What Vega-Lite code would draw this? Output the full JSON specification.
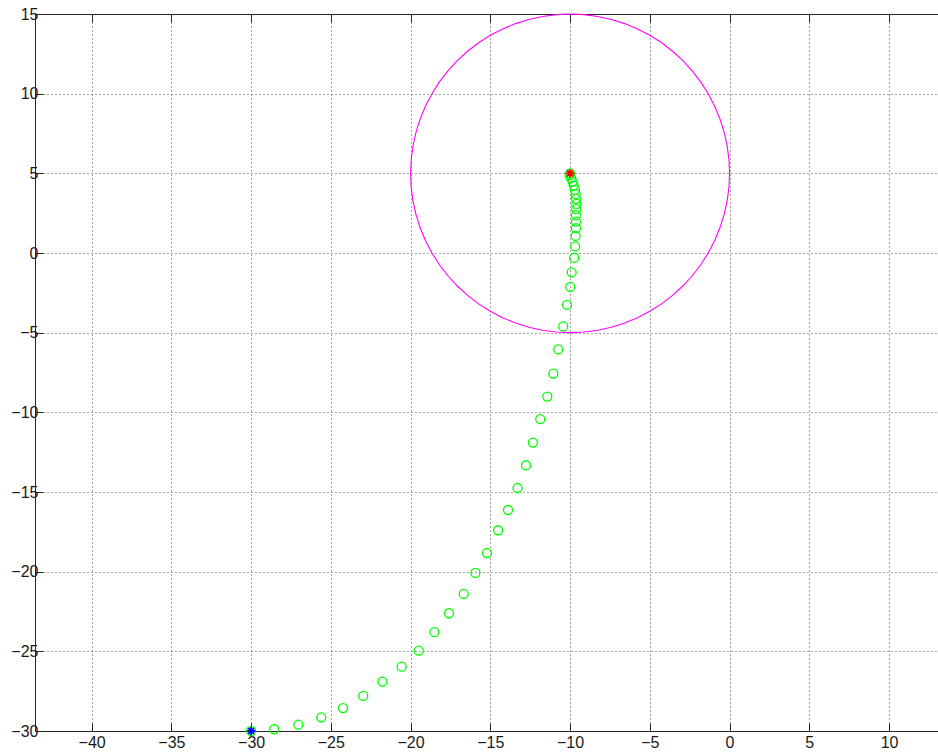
{
  "$schema": "https://vega.github.io/schema/vega-lite/v6.json",
  "width": 903,
  "height": 717,
  "autosize": {"type": "none"},
  "padding": {"left": 35, "top": 14, "right": 0, "bottom": 23},
  "background": "white",
  "config": {
    "view": {"stroke": null},
    "axis": {
      "domainColor": "#262626",
      "domainWidth": 1,
      "tickColor": "#262626",
      "tickWidth": 1,
      "labelFont": "Liberation Sans",
      "labelFontSize": 16,
      "labelColor": "#1a1a1a",
      "title": null
    }
  },
  "datasets": {
    "circle": [
      {"a":0,"x":0,"y":5},{"a":5,"x":-0.038,"y":5.872},{"a":10,"x":-0.152,"y":6.736},{"a":15,"x":-0.341,"y":7.588},
      {"a":20,"x":-0.603,"y":8.42},{"a":25,"x":-0.937,"y":9.226},{"a":30,"x":-1.34,"y":10},{"a":35,"x":-1.808,"y":10.736},
      {"a":40,"x":-2.34,"y":11.428},{"a":45,"x":-2.929,"y":12.071},{"a":50,"x":-3.572,"y":12.66},{"a":55,"x":-4.264,"y":13.192},
      {"a":60,"x":-5,"y":13.66},{"a":65,"x":-5.774,"y":14.063},{"a":70,"x":-6.58,"y":14.397},{"a":75,"x":-7.412,"y":14.659},
      {"a":80,"x":-8.264,"y":14.848},{"a":85,"x":-9.128,"y":14.962},{"a":90,"x":-10,"y":15},{"a":95,"x":-10.872,"y":14.962},
      {"a":100,"x":-11.736,"y":14.848},{"a":105,"x":-12.588,"y":14.659},{"a":110,"x":-13.42,"y":14.397},{"a":115,"x":-14.226,"y":14.063},
      {"a":120,"x":-15,"y":13.66},{"a":125,"x":-15.736,"y":13.192},{"a":130,"x":-16.428,"y":12.66},{"a":135,"x":-17.071,"y":12.071},
      {"a":140,"x":-17.66,"y":11.428},{"a":145,"x":-18.192,"y":10.736},{"a":150,"x":-18.66,"y":10},{"a":155,"x":-19.063,"y":9.226},
      {"a":160,"x":-19.397,"y":8.42},{"a":165,"x":-19.659,"y":7.588},{"a":170,"x":-19.848,"y":6.736},{"a":175,"x":-19.962,"y":5.872},
      {"a":180,"x":-20,"y":5},{"a":185,"x":-19.962,"y":4.128},{"a":190,"x":-19.848,"y":3.264},{"a":195,"x":-19.659,"y":2.412},
      {"a":200,"x":-19.397,"y":1.58},{"a":205,"x":-19.063,"y":0.774},{"a":210,"x":-18.66,"y":0},{"a":215,"x":-18.192,"y":-0.736},
      {"a":220,"x":-17.66,"y":-1.428},{"a":225,"x":-17.071,"y":-2.071},{"a":230,"x":-16.428,"y":-2.66},{"a":235,"x":-15.736,"y":-3.192},
      {"a":240,"x":-15,"y":-3.66},{"a":245,"x":-14.226,"y":-4.063},{"a":250,"x":-13.42,"y":-4.397},{"a":255,"x":-12.588,"y":-4.659},
      {"a":260,"x":-11.736,"y":-4.848},{"a":265,"x":-10.872,"y":-4.962},{"a":270,"x":-10,"y":-5},{"a":275,"x":-9.128,"y":-4.962},
      {"a":280,"x":-8.264,"y":-4.848},{"a":285,"x":-7.412,"y":-4.659},{"a":290,"x":-6.58,"y":-4.397},{"a":295,"x":-5.774,"y":-4.063},
      {"a":300,"x":-5,"y":-3.66},{"a":305,"x":-4.264,"y":-3.192},{"a":310,"x":-3.572,"y":-2.66},{"a":315,"x":-2.929,"y":-2.071},
      {"a":320,"x":-2.34,"y":-1.428},{"a":325,"x":-1.808,"y":-0.736},{"a":330,"x":-1.34,"y":0},{"a":335,"x":-0.937,"y":0.774},
      {"a":340,"x":-0.603,"y":1.58},{"a":345,"x":-0.341,"y":2.412},{"a":350,"x":-0.152,"y":3.264},{"a":355,"x":-0.038,"y":4.128},
      {"a":360,"x":0,"y":5}
    ],
    "traj": [
      {"x":-30,"y":-30},{"x":-28.55,"y":-29.89},{"x":-27.04,"y":-29.6},{"x":-25.6,"y":-29.14},{"x":-24.24,"y":-28.56},
      {"x":-22.97,"y":-27.8},{"x":-21.76,"y":-26.9},{"x":-20.56,"y":-25.96},{"x":-19.49,"y":-24.95},{"x":-18.51,"y":-23.8},
      {"x":-17.59,"y":-22.61},{"x":-16.67,"y":-21.4},{"x":-15.94,"y":-20.08},{"x":-15.21,"y":-18.83},{"x":-14.51,"y":-17.4},
      {"x":-13.89,"y":-16.13},{"x":-13.29,"y":-14.75},{"x":-12.76,"y":-13.32},{"x":-12.33,"y":-11.9},{"x":-11.87,"y":-10.43},
      {"x":-11.43,"y":-9.01},{"x":-11.05,"y":-7.57},{"x":-10.74,"y":-6.05},{"x":-10.43,"y":-4.61},{"x":-10.19,"y":-3.26},
      {"x":-9.99,"y":-2.13},{"x":-9.9,"y":-1.21},{"x":-9.74,"y":-0.31},{"x":-9.68,"y":0.41},{"x":-9.65,"y":1.07},
      {"x":-9.63,"y":1.56},{"x":-9.63,"y":1.97},{"x":-9.63,"y":2.37},{"x":-9.61,"y":2.75},{"x":-9.61,"y":3.08},
      {"x":-9.63,"y":3.4},{"x":-9.65,"y":3.69},{"x":-9.69,"y":3.96},{"x":-9.77,"y":4.23},{"x":-9.84,"y":4.48},
      {"x":-9.94,"y":4.7},{"x":-10.02,"y":4.87},{"x":-10,"y":5}
    ],
    "stars": [
      {"x":-30,"y":-30,"kind":"start"},
      {"x":-10,"y":5,"kind":"end"}
    ]
  },
  "resolve": {"axis": {"x": "independent"}},
  "layer": [
    {
      "data": {"name": "circle"},
      "mark": {"type": "line", "color": "#FF00FF", "strokeWidth": 1.1, "clip": false},
      "encoding": {
        "x": {"field": "x", "type": "quantitative",
          "scale": {"domain": [-43.55, 13.07], "nice": false, "zero": false},
          "axis": {"orient": "bottom", "values": [-40,-35,-30,-25,-20,-15,-10,-5,0,5,10],
            "grid": true, "gridDash": [1,3], "gridColor": "#444444", "gridWidth": 1,
            "tickSize": -8, "labelPadding": 11, "labelFlush": false}},
        "y": {"field": "y", "type": "quantitative",
          "scale": {"domain": [-30, 15], "nice": false, "zero": false},
          "axis": {"orient": "left", "values": [-30,-25,-20,-15,-10,-5,0,5,10,15],
            "grid": true, "gridDash": [1,3], "gridColor": "#444444", "gridWidth": 1,
            "tickSize": -8, "labelPadding": 5, "labelFlush": false}},
        "order": {"field": "a", "type": "quantitative"}
      }
    },
    {
      "data": {"name": "traj"},
      "mark": {"type": "point", "shape": "circle", "filled": false, "color": "#00FF00", "size": 81, "strokeWidth": 1.3, "opacity": 1},
      "encoding": {
        "x": {"field": "x", "type": "quantitative",
          "axis": {"orient": "top", "values": [-40,-35,-30,-25,-20,-15,-10,-5,0,5,10],
            "labels": false, "grid": false, "tickSize": -8}},
        "y": {"field": "y", "type": "quantitative"}
      }
    },
    {
      "data": {"name": "stars"},
      "mark": {"type": "point", "shape": "M-1,0H1M0,-1V1M-0.7,-0.7L0.7,0.7M-0.7,0.7L0.7,-0.7", "filled": false, "size": 70, "strokeWidth": 1.8, "opacity": 1},
      "encoding": {
        "x": {"field": "x", "type": "quantitative", "axis": null},
        "y": {"field": "y", "type": "quantitative"},
        "color": {"field": "kind", "type": "nominal",
          "scale": {"domain": ["start","end"], "range": ["#0000FF","#FF0000"]}, "legend": null}
      }
    }
  ]
}
